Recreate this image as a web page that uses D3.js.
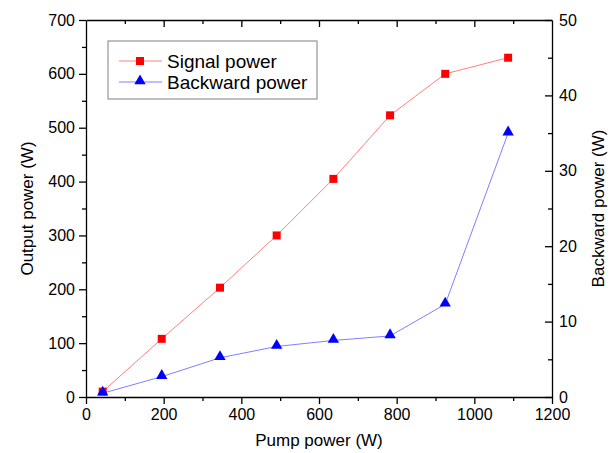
<!DOCTYPE html>
<html>
<head>
<meta charset="utf-8">
<script src="https://cdn.jsdelivr.net/npm/d3@7"></script>
<style>
  body { margin: 0; background: #fff; }
  text { font-family: "Liberation Sans", Arial, sans-serif; fill: #000; }
  .axis path, .axis line { stroke: #000; stroke-width: 1.3; }
</style>
</head>
<body>
<div id="chart"></div>
<script>
// data
var pumpPower = [43, 195, 345, 491, 637, 783, 925, 1087];
var signalPower = [10, 108, 203, 300, 405, 523, 600, 630];
var backwardPower = [0.5, 2.7, 5.2, 6.7, 7.5, 8.1, 12.3, 35.0];

var xTicks = [0, 200, 400, 600, 800, 1000, 1200];
var yLeftTicks = [0, 100, 200, 300, 400, 500, 600, 700];
var yRightTicks = [0, 10, 20, 30, 40, 50];

var width = 616;
var height = 453;
var plot = { left: 86, right: 552, top: 20, bottom: 397 };
var tickFont = 16;
var titleFont = 17;

var svg = d3.select("#chart")
  .append("svg")
  .attr("width", width)
  .attr("height", height);

var xScale = d3.scaleLinear().domain([0, 1200]).range([plot.left, plot.right]);
var yLeft = d3.scaleLinear().domain([0, 700]).range([plot.bottom, plot.top]);
var yRight = d3.scaleLinear().domain([0, 50]).range([plot.bottom, plot.top]);
var fmt = d3.format("d");

// minor tick values
var xMinor = d3.range(100, 1200, 200);
var yLeftMinor = d3.range(50, 700, 100);
var yRightMinor = d3.range(5, 50, 10);

function noDomain(g) { g.select(".domain").remove(); }

// bottom axis
svg.append("g")
  .attr("class", "axis")
  .attr("transform", "translate(0," + plot.bottom + ")")
  .call(d3.axisBottom(xScale).tickValues(xTicks).tickFormat(fmt).tickSize(7).tickPadding(5).tickSizeOuter(0))
  .call(function(g) { g.selectAll("text").attr("font-size", tickFont); });
svg.append("g")
  .attr("class", "axis")
  .attr("transform", "translate(0," + plot.bottom + ")")
  .call(d3.axisBottom(xScale).tickValues(xMinor).tickSize(4).tickFormat(""))
  .call(noDomain);

// top axis, inward ticks
svg.append("g")
  .attr("class", "axis")
  .attr("transform", "translate(0," + plot.top + ")")
  .call(d3.axisBottom(xScale).tickValues(xTicks).tickSize(7).tickFormat("").tickSizeOuter(0))
  .call(function(g) { g.selectAll(".tick").filter(function(d) { return d === 0 || d === 1200; }).remove(); });
svg.append("g")
  .attr("class", "axis")
  .attr("transform", "translate(0," + plot.top + ")")
  .call(d3.axisBottom(xScale).tickValues(xMinor).tickSize(4).tickFormat(""))
  .call(noDomain);

// left axis
svg.append("g")
  .attr("class", "axis")
  .attr("transform", "translate(" + plot.left + ",0)")
  .call(d3.axisLeft(yLeft).tickValues(yLeftTicks).tickSize(7).tickPadding(4).tickSizeOuter(0))
  .call(function(g) { g.selectAll("text").attr("font-size", tickFont); });
svg.append("g")
  .attr("class", "axis")
  .attr("transform", "translate(" + plot.left + ",0)")
  .call(d3.axisLeft(yLeft).tickValues(yLeftMinor).tickSize(4).tickFormat(""))
  .call(noDomain);

// right axis, ticks point inward
svg.append("g")
  .attr("class", "axis")
  .attr("transform", "translate(" + plot.right + ",0)")
  .call(d3.axisLeft(yRight).tickValues(yRightTicks).tickSize(7).tickFormat("").tickSizeOuter(0));
svg.append("g")
  .attr("class", "axis")
  .attr("transform", "translate(" + plot.right + ",0)")
  .call(d3.axisLeft(yRight).tickValues(yRightMinor).tickSize(4).tickFormat(""))
  .call(noDomain);
svg.append("g")
  .attr("class", "axis")
  .attr("transform", "translate(" + plot.right + ",0)")
  .call(d3.axisRight(yRight).tickValues(yRightTicks).tickSize(0).tickPadding(7))
  .call(noDomain)
  .call(function(g) { g.selectAll("text").attr("font-size", tickFont); });

// axis titles
svg.append("text")
  .attr("x", (plot.left + plot.right) / 2)
  .attr("y", 446)
  .attr("text-anchor", "middle")
  .attr("font-size", titleFont)
  .text("Pump power (W)");
svg.append("text")
  .attr("transform", "translate(33," + (plot.top + plot.bottom) / 2 + ")rotate(-90)")
  .attr("text-anchor", "middle")
  .attr("font-size", titleFont)
  .text("Output power (W)");
svg.append("text")
  .attr("transform", "translate(604," + (plot.top + plot.bottom) / 2 + ")rotate(-90)")
  .attr("text-anchor", "middle")
  .attr("font-size", titleFont)
  .text("Backward power (W)");

// lines
var signalLine = d3.line()
  .x(function(d, i) { return xScale(pumpPower[i]); })
  .y(function(d) { return yLeft(d); });
var backLine = d3.line()
  .x(function(d, i) { return xScale(pumpPower[i]); })
  .y(function(d) { return yRight(d); });

svg.append("path")
  .datum(signalPower)
  .attr("d", signalLine)
  .attr("fill", "none")
  .attr("stroke", "#ff8080")
  .attr("stroke-width", 1);
svg.append("path")
  .datum(backwardPower)
  .attr("d", backLine)
  .attr("fill", "none")
  .attr("stroke", "#8080ff")
  .attr("stroke-width", 1);

var square = d3.symbol().type(d3.symbolSquare).size(64);
var triangle = d3.symbol().type(d3.symbolTriangle).size(56);

svg.selectAll(".sq")
  .data(signalPower)
  .enter()
  .append("path")
  .attr("class", "sq")
  .attr("d", square)
  .attr("fill", "#ff0000")
  .attr("transform", function(d, i) {
    return "translate(" + xScale(pumpPower[i]) + "," + yLeft(d) + ")";
  });
svg.selectAll(".tri")
  .data(backwardPower)
  .enter()
  .append("path")
  .attr("class", "tri")
  .attr("d", triangle)
  .attr("fill", "#0000ff")
  .attr("transform", function(d, i) {
    return "translate(" + xScale(pumpPower[i]) + "," + (yRight(d) - 1) + ")";
  });

// legend
var legend = svg.append("g").attr("transform", "translate(108,41)");
legend.append("rect")
  .attr("width", 209)
  .attr("height", 58)
  .attr("fill", "#fff")
  .attr("stroke", "#808080")
  .attr("stroke-width", 1);
var items = [
  { name: "Signal power", line: "#ff8080", fill: "#ff0000", sym: square, y: 20 },
  { name: "Backward power", line: "#8080ff", fill: "#0000ff", sym: triangle, y: 41 }
];
items.forEach(function(it) {
  legend.append("line")
    .attr("x1", 11).attr("x2", 54)
    .attr("y1", it.y).attr("y2", it.y)
    .attr("stroke", it.line);
  legend.append("path")
    .attr("d", it.sym)
    .attr("fill", it.fill)
    .attr("transform", "translate(32," + (it.y - (it.sym === triangle ? 1 : 0)) + ")");
  legend.append("text")
    .attr("x", 59)
    .attr("y", it.y + 7)
    .attr("font-size", 19)
    .text(it.name);
});
</script>
</body>
</html>
